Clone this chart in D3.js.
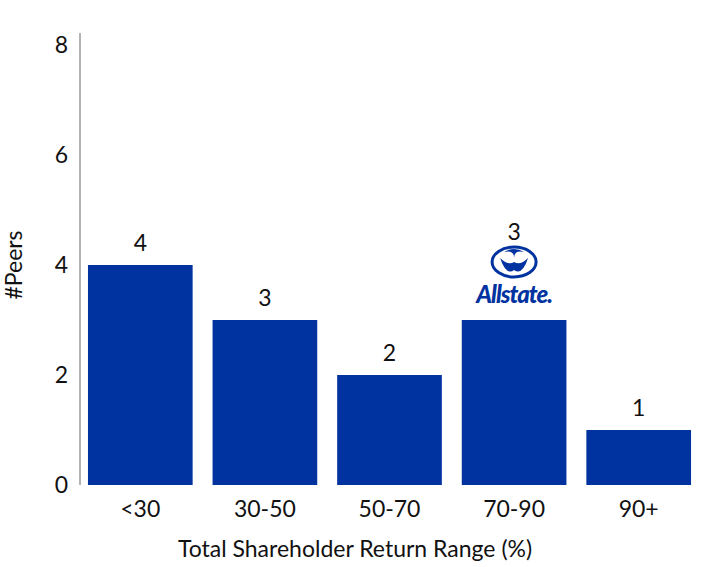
<!DOCTYPE html>
<html><head><meta charset="utf-8">
<script src="https://cdn.jsdelivr.net/npm/d3@7"></script>
<style>body{margin:0;background:#fff}text{font-family:Lato,"Open Sans",sans-serif}</style>
</head><body><svg id="c" width="709" height="567"></svg>
<script>
const categories = ["<30","30-50","50-70","70-90","90+"];
const peers = [4,3,2,3,1];
const yTicks = [0,2,4,6,8];
const color = "#0033a0";
const svg = d3.select("#c");
const x = d3.scaleBand().domain(categories).range([78,701]).paddingInner(0.16).paddingOuter(0.08);
const y = d3.scaleLinear().domain([0,8]).range([485,45]);
svg.append("line").attr("x1",80).attr("x2",80).attr("y1",33).attr("y2",485).attr("stroke","#999").attr("stroke-width",1.5);
svg.selectAll(".yt").data(yTicks).join("text").attr("x",68).attr("y",d=>y(d)+8).attr("text-anchor","end")
  .attr("font-size",23).attr("fill","#111").text(d=>d);
svg.selectAll(".bar").data(peers).join("rect").attr("x",(d,i)=>x(categories[i])).attr("width",x.bandwidth())
  .attr("y",d=>y(d)).attr("height",d=>y(0)-y(d)).attr("fill",color);
svg.selectAll(".lbl").data(peers).join("text").attr("x",(d,i)=>x(categories[i])+x.bandwidth()/2)
  .attr("y",(d,i)=>i===3?y(d)-80:y(d)-14).attr("text-anchor","middle").attr("font-size",23).attr("fill","#111").text(d=>d);
svg.selectAll(".xt").data(categories).join("text").attr("x",d=>x(d)+x.bandwidth()/2).attr("y",517)
  .attr("text-anchor","middle").attr("font-size",23).attr("fill","#111").text(d=>d);
svg.append("text").attr("x",355).attr("y",557).attr("text-anchor","middle").attr("font-size",23).attr("fill","#111").text("Total Shareholder Return Range (%)");
svg.append("text").attr("transform","translate(22,265) rotate(-90)").attr("text-anchor","middle").attr("font-size",23).attr("fill","#111").text("#Peers");
// Allstate logo
const cx = x("70-90")+x.bandwidth()/2;
const g = svg.append("g");
g.append("ellipse").attr("cx",cx).attr("cy",262).attr("rx",22).attr("ry",15).attr("fill","none").attr("stroke",color).attr("stroke-width",3);
g.append("path").attr("d",`M${cx-14},258 Q${cx-8},276 ${cx},270 Q${cx+8},276 ${cx+14},258 Q${cx+6},266 ${cx},262 Q${cx-6},266 ${cx-14},258Z`).attr("fill",color);
g.append("path").attr("d",`M${cx-10},252 Q${cx},246 ${cx+10},252 Q${cx},250 ${cx},258 Q${cx},250 ${cx-10},252Z`).attr("fill",color);
g.append("text").attr("x",cx).attr("y",303).attr("text-anchor","middle").attr("font-size",24).attr("font-weight",900)
  .attr("font-style","italic").attr("fill",color).attr("letter-spacing",-1).text("Allstate.");
</script></body></html>
